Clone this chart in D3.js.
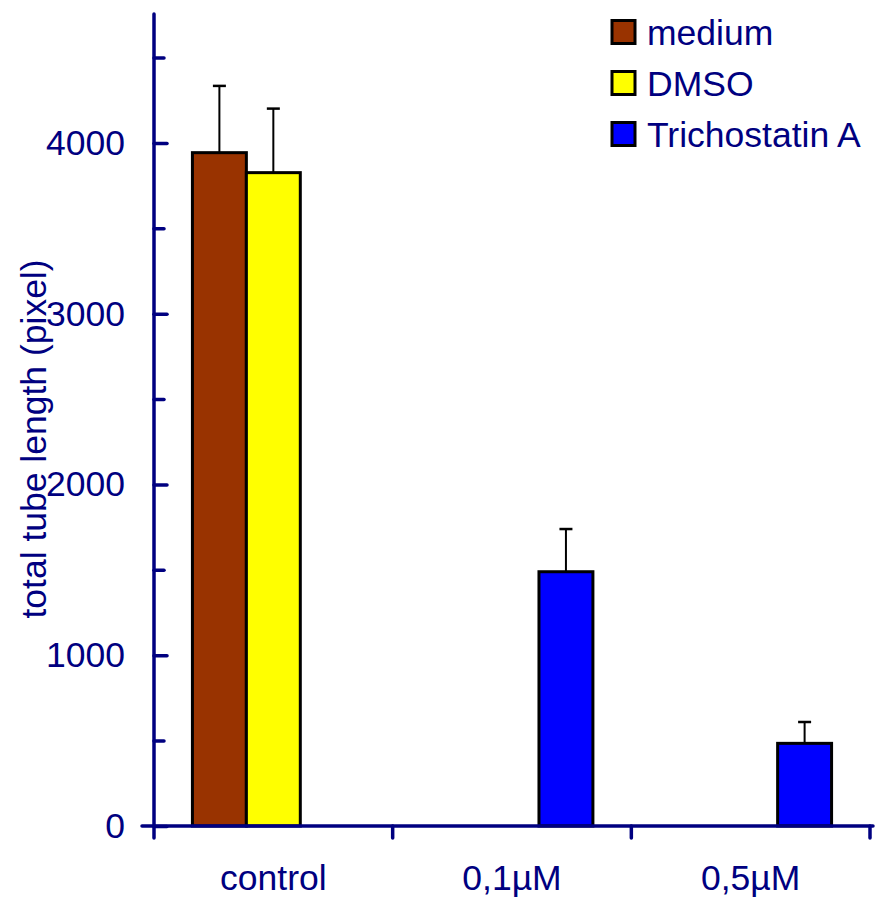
<!DOCTYPE html>
<html>
<head>
<meta charset="utf-8">
<script src="https://cdn.jsdelivr.net/npm/d3@7"></script>
<style>
  body { margin: 0; background: #fff; }
  text { font-family: "Liberation Sans", Arial, sans-serif; }
</style>
</head>
<body>
<svg width="876" height="914"></svg>
<script>
// data
const groups = ['control', '0,1\u00b5M', '0,5\u00b5M'];
const seriesNames = ['medium', 'DMSO', 'Trichostatin A'];
const seriesColors = ['#993300', '#ffff00', '#0000ff'];
const medium = [3943, null, null];
const dmso = [3826, null, null];
const tsa = [null, 1489, 484];
const mediumErr = [391, null, null];
const dmsoErr = [375, null, null];
const tsaErr = [null, 250, 125];
const yTicks = [0, 1000, 2000, 3000, 4000];
const yMinorTicks = [500, 1500, 2500, 3500, 4500];

const navy = '#000080';
const fontSize = '35.5px';
const svg = d3.select('svg');

// plot box (outer 876x914)
const plot = { left: 154, right: 870, top: 14, bottom: 826 };

// x: group bands, then a band per series inside
const x0 = d3.scaleBand().domain(groups).range([plot.left, plot.right])
  .paddingInner(0.322).paddingOuter(0.161);
const x1 = d3.scaleBand().domain(seriesNames).range([0, x0.bandwidth()]);
const y = d3.scaleLinear().domain([0, 4755]).range([plot.bottom, plot.top]);

// build rows for bars
const values = [medium, dmso, tsa];
const errs = [mediumErr, dmsoErr, tsaErr];
const rows = [];
seriesNames.forEach(function (s, si) {
  groups.forEach(function (g, gi) {
    if (values[si][gi] != null) {
      rows.push({ group: g, series: s, color: seriesColors[si], value: values[si][gi], err: errs[si][gi] });
    }
  });
});

// error bars (behind bars)
const eb = svg.append('g').attr('stroke', '#000').attr('stroke-width', 2);
rows.forEach(function (d) {
  const cx = x0(d.group) + x1(d.series) + x1.bandwidth() / 2;
  eb.append('line').attr('x1', cx).attr('x2', cx).attr('y1', y(d.value)).attr('y2', y(d.value + d.err));
  eb.append('line').attr('x1', cx - 6.5).attr('x2', cx + 6.5)
    .attr('y1', y(d.value + d.err)).attr('y2', y(d.value + d.err)).attr('stroke-width', 2.5);
});

// bars
svg.append('g').selectAll('rect')
  .data(rows)
  .enter()
  .append('rect')
  .attr('x', function (d) { return x0(d.group) + x1(d.series); })
  .attr('y', function (d) { return y(d.value); })
  .attr('width', x1.bandwidth())
  .attr('height', function (d) { return plot.bottom - y(d.value); })
  .attr('fill', function (d) { return d.color; })
  .attr('stroke', '#000')
  .attr('stroke-width', 3);

// y axis, major ticks cross the line
const yAxis = svg.append('g')
  .attr('transform', 'translate(' + plot.left + ',0)')
  .call(d3.axisLeft(y).tickValues(yTicks).tickFormat(d3.format('d'))
    .tickSize(12).tickSizeOuter(0).tickPadding(17));
yAxis.selectAll('.tick line').attr('x2', 13);
yAxis.select('.domain').remove();
yAxis.selectAll('.tick text').style('font-size', fontSize).attr('fill', navy);
yAxis.selectAll('line').attr('stroke', navy).attr('stroke-width', 3.5).attr('stroke-linecap', 'round');

// minor ticks to the right
const yMinor = svg.append('g')
  .attr('transform', 'translate(' + plot.left + ',0)')
  .call(d3.axisRight(y).tickValues(yMinorTicks).tickSize(10).tickFormat(''));
yMinor.select('.domain').remove();
yMinor.selectAll('line').attr('stroke', navy).attr('stroke-width', 3.5).attr('stroke-linecap', 'round');

svg.append('line')
  .attr('x1', plot.left).attr('x2', plot.left).attr('y1', y.range()[1]).attr('y2', plot.bottom)
  .attr('stroke', navy).attr('stroke-width', 3.5).attr('stroke-linecap', 'round');

// x axis: labels under groups, ticks on group boundaries
const xAxis = svg.append('g')
  .attr('transform', 'translate(0,' + plot.bottom + ')')
  .call(d3.axisBottom(x0).tickSize(0).tickPadding(39));
xAxis.select('.domain').remove();
xAxis.selectAll('.tick text').style('font-size', fontSize).attr('fill', navy);

const half = (x0.step() - x0.bandwidth()) / 2;
const bounds = groups.map(function (g) { return x0(g) - half; }).concat([plot.right]);
svg.append('g').selectAll('line')
  .data(bounds)
  .enter()
  .append('line')
  .attr('x1', function (d) { return d; }).attr('x2', function (d) { return d; })
  .attr('y1', plot.bottom).attr('y2', plot.bottom + 12)
  .attr('stroke', navy).attr('stroke-width', 3.5).attr('stroke-linecap', 'round');

svg.append('line')
  .attr('x1', plot.left - 12).attr('x2', plot.right + 3).attr('y1', plot.bottom).attr('y2', plot.bottom)
  .attr('stroke', navy).attr('stroke-width', 3.5).attr('stroke-linecap', 'round');

// y axis title
svg.append('text')
  .attr('transform', 'translate(46,439) rotate(-90)')
  .attr('text-anchor', 'middle')
  .attr('fill', navy)
  .style('font-size', fontSize)
  .text('total tube length (pixel)');

// legend
const legend = svg.append('g').attr('transform', 'translate(612,0)');
seriesNames.forEach(function (s, i) {
  const cy = 32 + i * 51;
  legend.append('rect')
    .attr('x', 0).attr('y', cy - 11.5).attr('width', 23).attr('height', 23)
    .attr('fill', seriesColors[i]).attr('stroke', '#000').attr('stroke-width', 3);
  legend.append('text')
    .attr('x', 35).attr('y', cy + 12.5)
    .attr('fill', navy)
    .style('font-size', fontSize)
    .text(s);
});
</script>
</body>
</html>
